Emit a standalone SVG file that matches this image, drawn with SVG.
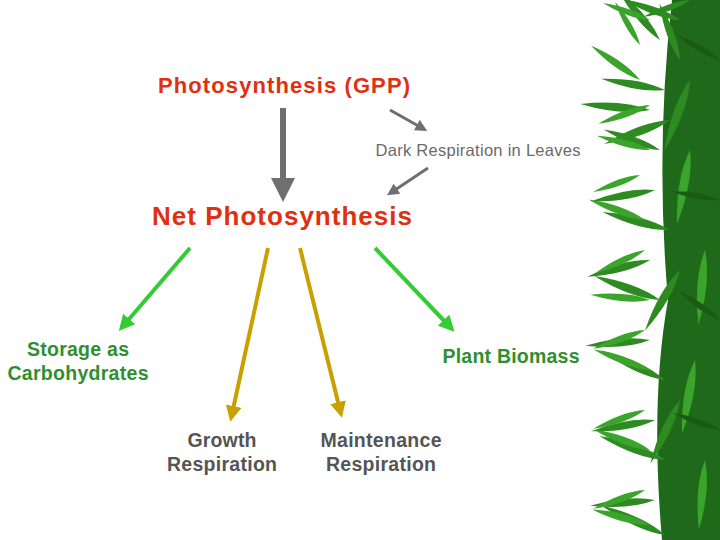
<svg xmlns="http://www.w3.org/2000/svg" xmlns:xlink="http://www.w3.org/1999/xlink" width="720" height="540" viewBox="0 0 720 540">
<style>
text{font-family:"Liberation Sans",Arial,sans-serif;font-weight:bold}
.red{fill:#e03010}
.g{fill:#6a6a6a;font-weight:normal}
.lab{fill:#555}
.green{fill:#2f8f2f}
</style>
<defs>
<marker id="mg" markerWidth="4" markerHeight="4" refX="2" refY="2" orient="auto"><path d="M0,0L4,2L0,4z" fill="#6f6f6f"/></marker>
<marker id="mgr" markerWidth="4" markerHeight="4" refX="2" refY="2" orient="auto"><path d="M0,0L4,2L0,4z" fill="#33cc33"/></marker>
<marker id="mo" markerWidth="4" markerHeight="4" refX="2" refY="2" orient="auto"><path d="M0,0L4,2L0,4z" fill="#c8a000"/></marker>
<path id="leaf" d="M0,0 Q20,-6 50,0 Q20,6 0,0Z"/>
</defs>
<rect width="720" height="540" fill="#fff"/>
<g id="bamboo">
<path d="M672,0 L720,0 L720,540 L662,540 Q650,400 668,300 Q655,150 672,0Z" fill="#1f6a1a"/>
<g fill="#2e8b22">
<use xlink:href="#leaf" transform="translate(690,0) rotate(160)"/>
<use xlink:href="#leaf" transform="translate(680,20) rotate(200) scale(1.2)"/>
<use xlink:href="#leaf" transform="translate(660,40) rotate(230) scale(1.3)"/>
<use xlink:href="#leaf" transform="translate(680,60) rotate(250) scale(1.2)"/>
<use xlink:href="#leaf" transform="translate(665,90) rotate(190) scale(1.3)"/>
<use xlink:href="#leaf" transform="translate(670,120) rotate(160) scale(1.4)"/>
<use xlink:href="#leaf" transform="translate(660,150) rotate(200) scale(1.2)"/>
<use xlink:href="#leaf" transform="translate(650,110) rotate(185) scale(1.4)"/>
<use xlink:href="#leaf" transform="translate(655,190) rotate(170) scale(1.3)"/>
<use xlink:href="#leaf" transform="translate(670,230) rotate(195) scale(1.4)"/>
<use xlink:href="#leaf" transform="translate(650,260) rotate(165) scale(1.3)"/>
<use xlink:href="#leaf" transform="translate(660,300) rotate(200) scale(1.4)"/>
<use xlink:href="#leaf" transform="translate(650,340) rotate(175) scale(1.3)"/>
<use xlink:href="#leaf" transform="translate(665,380) rotate(205) scale(1.4)"/>
<use xlink:href="#leaf" transform="translate(655,420) rotate(170) scale(1.3)"/>
<use xlink:href="#leaf" transform="translate(665,460) rotate(200) scale(1.4)"/>
<use xlink:href="#leaf" transform="translate(655,500) rotate(175) scale(1.3)"/>
<use xlink:href="#leaf" transform="translate(665,535) rotate(205) scale(1.4)"/>
<use xlink:href="#leaf" transform="translate(680,270) rotate(120) scale(1.4)"/>
<use xlink:href="#leaf" transform="translate(690,80) rotate(110) scale(1.5)"/>
<use xlink:href="#leaf" transform="translate(680,400) rotate(115) scale(1.4)"/>
</g>
<g fill="#3aa52a">
<use xlink:href="#leaf" transform="translate(650,20) rotate(200)"/>
<use xlink:href="#leaf" transform="translate(640,45) rotate(240)"/>
<use xlink:href="#leaf" transform="translate(640,80) rotate(215) scale(1.2)"/>
<use xlink:href="#leaf" transform="translate(650,105) rotate(160) scale(1.1)"/>
<use xlink:href="#leaf" transform="translate(650,150) rotate(195) scale(1.1)"/>
<use xlink:href="#leaf" transform="translate(640,175) rotate(160)"/>
<use xlink:href="#leaf" transform="translate(645,220) rotate(200) scale(1.2)"/>
<use xlink:href="#leaf" transform="translate(645,250) rotate(155) scale(1.1)"/>
<use xlink:href="#leaf" transform="translate(650,300) rotate(185) scale(1.2)"/>
<use xlink:href="#leaf" transform="translate(645,330) rotate(160) scale(1.1)"/>
<use xlink:href="#leaf" transform="translate(650,370) rotate(200) scale(1.2)"/>
<use xlink:href="#leaf" transform="translate(645,410) rotate(160) scale(1.1)"/>
<use xlink:href="#leaf" transform="translate(650,450) rotate(200) scale(1.2)"/>
<use xlink:href="#leaf" transform="translate(645,490) rotate(160) scale(1.1)"/>
<use xlink:href="#leaf" transform="translate(650,525) rotate(195) scale(1.2)"/>
<use xlink:href="#leaf" transform="translate(690,150) rotate(100) scale(1.5)"/>
<use xlink:href="#leaf" transform="translate(705,250) rotate(95) scale(1.5)"/>
<use xlink:href="#leaf" transform="translate(695,360) rotate(100) scale(1.5)"/>
<use xlink:href="#leaf" transform="translate(705,460) rotate(95) scale(1.4)"/>
</g>
<g fill="#1a5a14">
<use xlink:href="#leaf" transform="translate(720,60) rotate(210)"/>
<use xlink:href="#leaf" transform="translate(720,200) rotate(190)"/>
<use xlink:href="#leaf" transform="translate(720,320) rotate(215)"/>
<use xlink:href="#leaf" transform="translate(720,430) rotate(200)"/>
</g>
</g>
<g id="connectors" fill="none">
<line x1="283" y1="108" x2="283" y2="190" stroke="#6f6f6f" stroke-width="6" marker-end="url(#mg)"/>
<line x1="390" y1="110" x2="422" y2="128" stroke="#6f6f6f" stroke-width="3" marker-end="url(#mg)"/>
<line x1="428" y1="168" x2="392" y2="192" stroke="#6f6f6f" stroke-width="3" marker-end="url(#mg)"/>
<line x1="190" y1="248" x2="124" y2="325" stroke="#33cc33" stroke-width="4" marker-end="url(#mgr)"/>
<line x1="375" y1="248" x2="449" y2="326" stroke="#33cc33" stroke-width="4" marker-end="url(#mgr)"/>
<line x1="268" y1="248" x2="232" y2="414" stroke="#c8a000" stroke-width="4" marker-end="url(#mo)"/>
<line x1="300" y1="248" x2="340" y2="410" stroke="#c8a000" stroke-width="4" marker-end="url(#mo)"/>
</g>
<g id="gpp"><text x="284" y="93" font-size="22" text-anchor="middle" class="red" textLength="252">Photosynthesis (GPP)</text></g>
<g id="dark"><text x="478" y="156" font-size="16.5" text-anchor="middle" class="g" textLength="205">Dark Respiration in Leaves</text></g>
<g id="net"><text x="282" y="225" font-size="26" text-anchor="middle" class="red" textLength="260">Net Photosynthesis</text></g>
<g id="storage"><text x="78" y="356" font-size="19.5" text-anchor="middle" class="green" textLength="102">Storage as</text><text x="78" y="380" font-size="19.5" text-anchor="middle" class="green" textLength="141">Carbohydrates</text></g>
<g id="biomass"><text x="511" y="363" font-size="19.5" text-anchor="middle" class="green" textLength="137">Plant Biomass</text></g>
<g id="growth"><text x="222" y="447" font-size="19.5" text-anchor="middle" class="lab" textLength="69">Growth</text><text x="222" y="471" font-size="19.5" text-anchor="middle" class="lab" textLength="110">Respiration</text></g>
<g id="maint"><text x="381" y="447" font-size="19.5" text-anchor="middle" class="lab" textLength="121">Maintenance</text><text x="381" y="471" font-size="19.5" text-anchor="middle" class="lab" textLength="110">Respiration</text></g>
</svg>
